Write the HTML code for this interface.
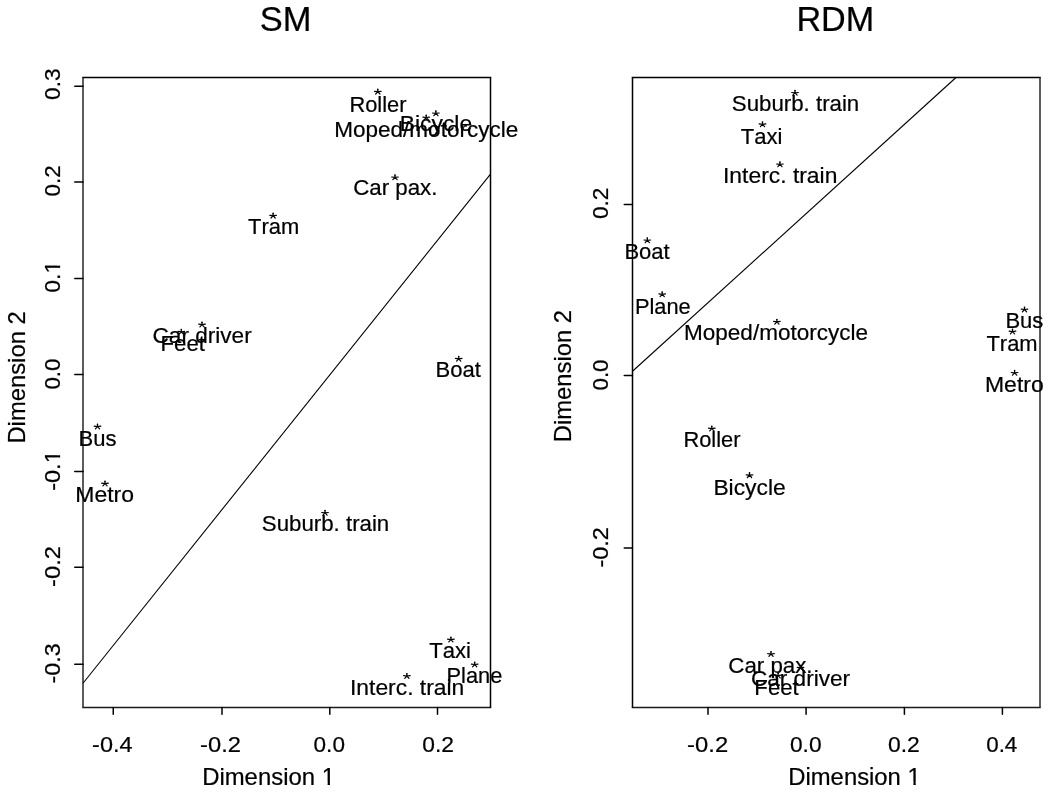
<!DOCTYPE html>
<html><head><meta charset="utf-8"><style>
html,body{margin:0;padding:0;background:#fff;overflow:hidden;}
svg{display:block;will-change:transform;}
text{font-family:"Liberation Sans",sans-serif;fill:#000;stroke:#000;stroke-width:0.22px;font-kerning:none;font-variant-ligatures:none;}
</style></head><body>
<svg width="1050" height="800" viewBox="0 0 1050 800">
<rect x="0" y="0" width="1050" height="800" fill="#fff"/>
<defs>
<g id="ast"><path d="M0,0L0,-2.2M0,0L-3.3,-0.4M0,0L3.3,-0.4M0,0L-2.1,2.3M0,0L2.1,2.3" fill="none" stroke="#000" stroke-width="1.2" stroke-linecap="round"/><circle cx="0" cy="-2.3" r="0.8" fill="#000" stroke="none"/></g>

</defs>
<g fill="#000" stroke="#000" stroke-width="0">
<line x1="82.25" y1="77.50" x2="491.25" y2="77.50" stroke="#000" stroke-width="1.5" stroke-linecap="butt"/>
<line x1="82.25" y1="707.40" x2="491.25" y2="707.40" stroke="#1a1a1a" stroke-width="1.5" stroke-linecap="butt"/>
<line x1="83.00" y1="77.50" x2="83.00" y2="707.40" stroke="#262626" stroke-width="1.5" stroke-linecap="butt"/>
<line x1="490.50" y1="77.50" x2="490.50" y2="707.40" stroke="#000" stroke-width="1.5" stroke-linecap="butt"/>
<line x1="631.75" y1="77.50" x2="1040.75" y2="77.50" stroke="#000" stroke-width="1.5" stroke-linecap="butt"/>
<line x1="631.75" y1="707.40" x2="1040.75" y2="707.40" stroke="#1a1a1a" stroke-width="1.5" stroke-linecap="butt"/>
<line x1="632.50" y1="77.50" x2="632.50" y2="707.40" stroke="#000" stroke-width="1.5" stroke-linecap="butt"/>
<line x1="1040.00" y1="77.50" x2="1040.00" y2="707.40" stroke="#262626" stroke-width="1.5" stroke-linecap="butt"/>
<line x1="83.00" y1="683.25" x2="490.50" y2="174.10" stroke="#000" stroke-width="1.1" stroke-linecap="butt"/>
<line x1="632.50" y1="371.25" x2="956.00" y2="77.50" stroke="#000" stroke-width="1.1" stroke-linecap="butt"/>
<line x1="113.25" y1="707.40" x2="113.25" y2="714.20" stroke="#000" stroke-width="1.5" stroke-linecap="round"/>
<line x1="222.00" y1="707.40" x2="222.00" y2="714.20" stroke="#000" stroke-width="1.5" stroke-linecap="round"/>
<line x1="329.80" y1="707.40" x2="329.80" y2="714.20" stroke="#000" stroke-width="1.5" stroke-linecap="round"/>
<line x1="437.50" y1="707.40" x2="437.50" y2="714.20" stroke="#000" stroke-width="1.5" stroke-linecap="round"/>
<line x1="708.00" y1="707.40" x2="708.00" y2="714.20" stroke="#000" stroke-width="1.5" stroke-linecap="round"/>
<line x1="806.07" y1="707.40" x2="806.07" y2="714.20" stroke="#000" stroke-width="1.5" stroke-linecap="round"/>
<line x1="904.40" y1="707.40" x2="904.40" y2="714.20" stroke="#000" stroke-width="1.5" stroke-linecap="round"/>
<line x1="1002.40" y1="707.40" x2="1002.40" y2="714.20" stroke="#000" stroke-width="1.5" stroke-linecap="round"/>
<line x1="83.00" y1="86.15" x2="74.75" y2="86.15" stroke="#000" stroke-width="1.5" stroke-linecap="round"/>
<line x1="83.00" y1="182.00" x2="74.75" y2="182.00" stroke="#000" stroke-width="1.5" stroke-linecap="round"/>
<line x1="83.00" y1="278.60" x2="74.75" y2="278.60" stroke="#000" stroke-width="1.5" stroke-linecap="round"/>
<line x1="83.00" y1="374.55" x2="74.75" y2="374.55" stroke="#000" stroke-width="1.5" stroke-linecap="round"/>
<line x1="83.00" y1="471.45" x2="74.75" y2="471.45" stroke="#000" stroke-width="1.5" stroke-linecap="round"/>
<line x1="83.00" y1="567.30" x2="74.75" y2="567.30" stroke="#000" stroke-width="1.5" stroke-linecap="round"/>
<line x1="83.00" y1="664.15" x2="74.75" y2="664.15" stroke="#000" stroke-width="1.5" stroke-linecap="round"/>
<line x1="632.50" y1="204.45" x2="624.25" y2="204.45" stroke="#000" stroke-width="1.5" stroke-linecap="round"/>
<line x1="632.50" y1="375.55" x2="624.25" y2="375.55" stroke="#000" stroke-width="1.5" stroke-linecap="round"/>
<line x1="632.50" y1="547.90" x2="624.25" y2="547.90" stroke="#000" stroke-width="1.5" stroke-linecap="round"/>
<text transform="translate(112.30,751.75) scale(1.0580,1.025)" font-size="22.2" text-anchor="middle">-0.4</text>
<text transform="translate(220.55,751.75) scale(1.0691,1.025)" font-size="22.2" text-anchor="middle">-0.2</text>
<text transform="translate(329.25,751.75) scale(1.0163,1.025)" font-size="22.2" text-anchor="middle">0.0</text>
<text transform="translate(438.13,751.75) scale(1.0285,1.025)" font-size="22.2" text-anchor="middle">0.2</text>
<text transform="translate(707.62,751.75) scale(1.0733,1.025)" font-size="22.2" text-anchor="middle">-0.2</text>
<text transform="translate(805.75,751.75) scale(1.0231,1.025)" font-size="22.2" text-anchor="middle">0.0</text>
<text transform="translate(903.88,751.75) scale(1.0320,1.025)" font-size="22.2" text-anchor="middle">0.2</text>
<text transform="translate(1001.74,751.75) scale(1.0087,1.025)" font-size="22.2" text-anchor="middle">0.4</text>
<text transform="translate(59.90,84.19) rotate(-90) scale(1.0166,1.025)" font-size="22.2" text-anchor="middle">0.3</text>
<text transform="translate(59.90,180.97) rotate(-90) scale(1.0094,1.025)" font-size="22.2" text-anchor="middle">0.2</text>
<text transform="translate(59.90,276.72) rotate(-90) scale(1.0324,1.025)" font-size="22.2" text-anchor="middle">0.1</text><g transform="translate(59.90,276.72) rotate(-90) scale(1.0324,1.025)" fill="#fff" stroke="none"><rect x="4.27" y="-2.56" width="4.26" height="3.56"/><rect x="10.76" y="-2.56" width="4.49" height="3.56"/></g>
<text transform="translate(59.90,374.00) rotate(-90) scale(1.0128,1.025)" font-size="22.2" text-anchor="middle">0.0</text>
<text transform="translate(59.90,470.53) rotate(-90) scale(1.0594,1.025)" font-size="22.2" text-anchor="middle">-0.1</text><g transform="translate(59.90,470.53) rotate(-90) scale(1.0594,1.025)" fill="#fff" stroke="none"><rect x="7.97" y="-2.56" width="4.26" height="3.56"/><rect x="14.45" y="-2.56" width="4.49" height="3.56"/></g>
<text transform="translate(59.90,566.48) rotate(-90) scale(1.0677,1.025)" font-size="22.2" text-anchor="middle">-0.2</text>
<text transform="translate(59.90,663.46) rotate(-90) scale(1.0471,1.025)" font-size="22.2" text-anchor="middle">-0.3</text>
<text transform="translate(608.45,203.42) rotate(-90) scale(1.0181,1.025)" font-size="22.2" text-anchor="middle">0.2</text>
<text transform="translate(608.45,375.00) rotate(-90) scale(1.0094,1.025)" font-size="22.2" text-anchor="middle">0.0</text>
<text transform="translate(608.45,547.33) rotate(-90) scale(1.0581,1.025)" font-size="22.2" text-anchor="middle">-0.2</text>
<use href="#ast" x="377.8" y="91.7"/>
<text transform="translate(377.89,111.70) scale(0.9796,1.0)" font-size="22.3" text-anchor="middle">Roller</text>
<use href="#ast" x="426.2" y="117.5"/>
<text transform="translate(426.23,137.10) scale(1.0102,1.0)" font-size="22.3" text-anchor="middle">Moped/motorcycle</text>
<use href="#ast" x="435.9" y="113.4"/>
<text transform="translate(435.97,131.00) scale(1.0249,1.0)" font-size="22.3" text-anchor="middle">Bicycle</text>
<use href="#ast" x="395.0" y="177.4"/>
<text transform="translate(395.35,194.80) scale(0.9999,1.0)" font-size="22.3" text-anchor="middle">Car pax.</text>
<use href="#ast" x="273.1" y="215.7"/>
<text transform="translate(273.63,234.00) scale(0.9829,1.0)" font-size="22.3" text-anchor="middle">Tram</text>
<use href="#ast" x="202.0" y="324.6"/>
<text transform="translate(202.11,342.70) scale(1.0136,1.0)" font-size="22.3" text-anchor="middle">Car driver</text>
<use href="#ast" x="181.3" y="331.8"/>
<text transform="translate(182.72,351.40) scale(0.9958,1.0)" font-size="22.3" text-anchor="middle">Feet</text>
<use href="#ast" x="458.7" y="358.8"/>
<text transform="translate(458.18,377.40) scale(0.9890,1.0)" font-size="22.3" text-anchor="middle">Boat</text>
<use href="#ast" x="97.5" y="426.6"/>
<text transform="translate(97.59,445.85) scale(0.9891,1.0)" font-size="22.3" text-anchor="middle">Bus</text>
<use href="#ast" x="105.0" y="483.6"/>
<text transform="translate(104.69,501.85) scale(1.0297,1.0)" font-size="22.3" text-anchor="middle">Metro</text>
<use href="#ast" x="325.0" y="512.9"/>
<text transform="translate(325.52,531.00) scale(0.9990,1.0)" font-size="22.3" text-anchor="middle">Suburb. train</text>
<use href="#ast" x="450.9" y="639.6"/>
<text transform="translate(450.09,658.10) scale(0.9882,1.0)" font-size="22.3" text-anchor="middle">Taxi</text>
<use href="#ast" x="474.7" y="664.5"/>
<text transform="translate(474.44,682.85) scale(0.9794,1.0)" font-size="22.3" text-anchor="middle">Plane</text>
<use href="#ast" x="406.9" y="676.0"/>
<text transform="translate(407.14,695.00) scale(1.0256,1.0)" font-size="22.3" text-anchor="middle">Interc. train</text>
<use href="#ast" x="795.0" y="92.9"/>
<text transform="translate(795.52,111.30) scale(0.9990,1.0)" font-size="22.3" text-anchor="middle">Suburb. train</text>
<use href="#ast" x="762.5" y="124.3"/>
<text transform="translate(761.49,143.85) scale(0.9882,1.0)" font-size="22.3" text-anchor="middle">Taxi</text>
<use href="#ast" x="779.9" y="164.4"/>
<text transform="translate(780.19,183.40) scale(1.0256,1.0)" font-size="22.3" text-anchor="middle">Interc. train</text>
<use href="#ast" x="647.3" y="240.4"/>
<text transform="translate(647.08,259.30) scale(0.9890,1.0)" font-size="22.3" text-anchor="middle">Boat</text>
<use href="#ast" x="662.2" y="294.3"/>
<text transform="translate(662.84,313.60) scale(0.9794,1.0)" font-size="22.3" text-anchor="middle">Plane</text>
<use href="#ast" x="776.9" y="321.8"/>
<text transform="translate(776.03,339.60) scale(1.0102,1.0)" font-size="22.3" text-anchor="middle">Moped/motorcycle</text>
<use href="#ast" x="1024.5" y="309.5"/>
<text transform="translate(1024.39,327.85) scale(0.9891,1.0)" font-size="22.3" text-anchor="middle">Bus</text>
<use href="#ast" x="1012.5" y="331.6"/>
<text transform="translate(1012.03,350.55) scale(0.9829,1.0)" font-size="22.3" text-anchor="middle">Tram</text>
<use href="#ast" x="1014.6" y="372.9"/>
<text transform="translate(1014.34,392.15) scale(1.0297,1.0)" font-size="22.3" text-anchor="middle">Metro</text>
<use href="#ast" x="711.8" y="428.6"/>
<text transform="translate(711.94,447.15) scale(0.9796,1.0)" font-size="22.3" text-anchor="middle">Roller</text>
<use href="#ast" x="749.5" y="475.2"/>
<text transform="translate(749.55,494.85) scale(1.0249,1.0)" font-size="22.3" text-anchor="middle">Bicycle</text>
<use href="#ast" x="771.0" y="654.0"/>
<text transform="translate(770.45,672.80) scale(0.9999,1.0)" font-size="22.3" text-anchor="middle">Car pax.</text>
<use href="#ast" x="800.5" y="667.8"/>
<text transform="translate(800.51,686.15) scale(1.0136,1.0)" font-size="22.3" text-anchor="middle">Car driver</text>
<use href="#ast" x="778.1" y="675.6"/>
<text transform="translate(776.57,694.70) scale(0.9958,1.0)" font-size="22.3" text-anchor="middle">Feet</text>
<text transform="translate(285.68,30.80) scale(1.0018,1.04)" font-size="34.4" text-anchor="middle">SM</text>
<text transform="translate(835.30,30.75) scale(0.9932,1.04)" font-size="34.4" text-anchor="middle">RDM</text>
<text transform="translate(268.55,785.00) scale(1.0048,1.0)" font-size="23.8" text-anchor="middle">Dimension 1</text><g transform="translate(268.55,785.00) scale(1.0048,1.0)" fill="#fff" stroke="none"><rect x="54.22" y="-2.68" width="4.54" height="3.68"/><rect x="61.12" y="-2.68" width="4.76" height="3.68"/></g>
<text transform="translate(854.50,784.90) scale(1.0024,1.0)" font-size="23.8" text-anchor="middle">Dimension 1</text><g transform="translate(854.50,784.90) scale(1.0024,1.0)" fill="#fff" stroke="none"><rect x="54.22" y="-2.68" width="4.54" height="3.68"/><rect x="61.12" y="-2.68" width="4.76" height="3.68"/></g>
<text transform="translate(24.56,377.43) rotate(-90) scale(1.0005,1.0)" font-size="23.8" text-anchor="middle">Dimension 2</text>
<text transform="translate(571.26,376.13) rotate(-90) scale(1.0005,1.0)" font-size="23.8" text-anchor="middle">Dimension 2</text>
</g>
</svg>
</body></html>
